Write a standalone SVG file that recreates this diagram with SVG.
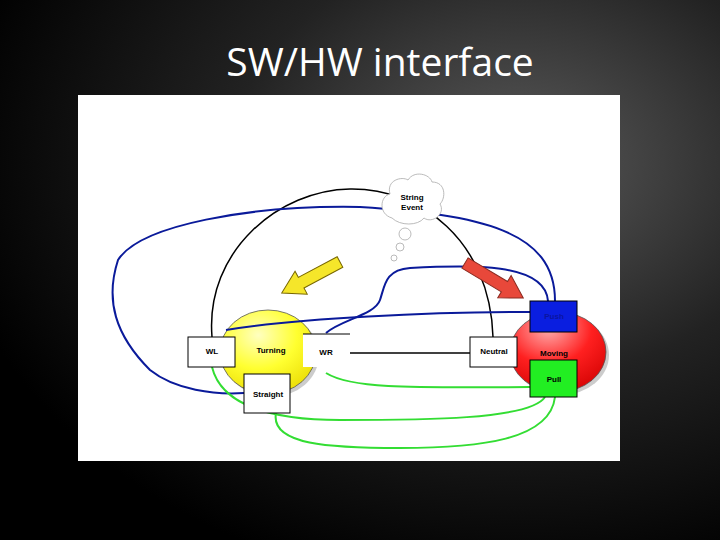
<svg xmlns="http://www.w3.org/2000/svg" width="720" height="540" viewBox="0 0 720 540">
<defs>
<radialGradient id="bg" cx="0.72" cy="0.3" r="0.8"><stop offset="0" stop-color="#5a5a5a"/><stop offset="0.5" stop-color="#222"/><stop offset="1" stop-color="#000"/></radialGradient>
<radialGradient id="yel" cx="0.4" cy="0.3" r="0.8"><stop offset="0" stop-color="#ffffc0"/><stop offset="0.5" stop-color="#ffff30"/><stop offset="1" stop-color="#e8d800"/></radialGradient>
<radialGradient id="red" cx="0.4" cy="0.2" r="0.9"><stop offset="0" stop-color="#ffb0b0"/><stop offset="0.5" stop-color="#ff2020"/><stop offset="1" stop-color="#d00000"/></radialGradient>
<style>
.box{fill:#fff;stroke:#000;stroke-width:1}
.t{font-family:"Liberation Sans",Arial,sans-serif;font-size:8px;font-weight:bold;text-anchor:middle}
.bl{fill:none;stroke:#0a1a9a;stroke-width:2}
.gr{fill:none;stroke:#33dd33;stroke-width:2}
.bk{fill:none;stroke:#000;stroke-width:1.5}
</style>
</defs>
<rect width="720" height="540" fill="url(#bg)"/>
<text x="380" y="76" font-family="'Open Sans','Liberation Sans',sans-serif" font-size="39" fill="#fff" text-anchor="middle">SW/HW interface</text>
<rect x="78" y="95" width="542" height="366" fill="#fff"/>
<g id="turning"><ellipse cx="271" cy="355" rx="48" ry="42" fill="#999" opacity="0.5"/><ellipse cx="268" cy="352" rx="48" ry="42" fill="url(#yel)" stroke="#555" stroke-width="0.8"/><text class="t" x="271" y="353">Turning</text></g>
<g id="moving"><ellipse cx="561" cy="355" rx="48" ry="40" fill="#999" opacity="0.5"/><ellipse cx="558" cy="352" rx="48" ry="40" fill="url(#red)" stroke="#555" stroke-width="0.8"/><text class="t" x="554" y="356">Moving</text></g>
<g id="connectors">
<path class="bk" d="M212,337 C205,250 280,190 350,189 C420,188 490,240 493,337"/>
<path class="bk" d="M350,353 L470,353"/>
<path class="bl" d="M555,301 C555,230 480,215 360,207 C250,205 140,225 118,260 C105,300 115,335 150,370 C175,390 215,395 244,393"/>
<path class="bl" d="M530,312 C430,312 300,318 226,330"/>
<path class="bl" d="M326,333 C340,320 375,315 380,300 C385,285 385,270 410,268 C470,265 545,262 548,301"/>
<path class="gr" d="M326,373 C350,388 400,388 530,387"/>
<path class="gr" d="M212,367 C220,400 260,420 340,420 C420,420 530,420 545,397"/>
<path class="gr" d="M276,413 C270,445 330,448 400,448 C480,448 550,440 555,397"/>
</g>
<g id="arrows">
<polygon transform="translate(340,262) rotate(152)" points="0,-6 44,-6 44,-13 66,0 44,13 44,6 0,6" fill="#f5e62a" stroke="#776600" stroke-width="1"/>
<polygon transform="translate(465,263) rotate(31)" points="0,-6 46,-6 46,-13 68,0 46,13 46,6 0,6" fill="#e8483a" stroke="#8a2a20" stroke-width="1"/>
</g>
<g id="cloud">
<path d="M392,218 C378,214 380,196 390,194 C386,180 402,176 408,180 C414,170 430,174 432,182 C446,182 446,198 440,204 C446,214 432,224 424,218 C418,226 400,226 392,218 Z" fill="#fff" stroke="#aaa" stroke-width="0.8"/>
<circle cx="405" cy="234" r="6" fill="#fff" stroke="#aaa" stroke-width="0.8"/>
<circle cx="400" cy="247" r="4" fill="#fff" stroke="#aaa" stroke-width="0.8"/>
<circle cx="394" cy="258" r="3" fill="#fff" stroke="#aaa" stroke-width="0.8"/>
<text class="t" x="412" y="200">String</text><text class="t" x="412" y="210">Event</text>
</g>
<g id="wl"><rect class="box" x="188" y="337" width="47" height="30"/><text class="t" x="212" y="354">WL</text></g>
<g id="wr"><rect x="303" y="334" width="47" height="33" fill="#fff"/><line x1="303" y1="334" x2="350" y2="334" stroke="#000"/><text class="t" x="326" y="355">WR</text></g>
<g id="straight"><rect class="box" x="244" y="374" width="46" height="39"/><text class="t" x="268" y="397">Straight</text></g>
<g id="neutral"><rect class="box" x="470" y="337" width="47" height="30"/><text class="t" x="494" y="354">Neutral</text></g>
<g id="push"><rect x="530" y="301" width="47" height="31" fill="#0a1ee0" stroke="#000"/><text class="t" x="554" y="319" fill="#0a14a0">Push</text></g>
<g id="pull"><rect x="530" y="360" width="47" height="37" fill="#22ee22" stroke="#000"/><text class="t" x="554" y="382">Pull</text></g>
</svg>
